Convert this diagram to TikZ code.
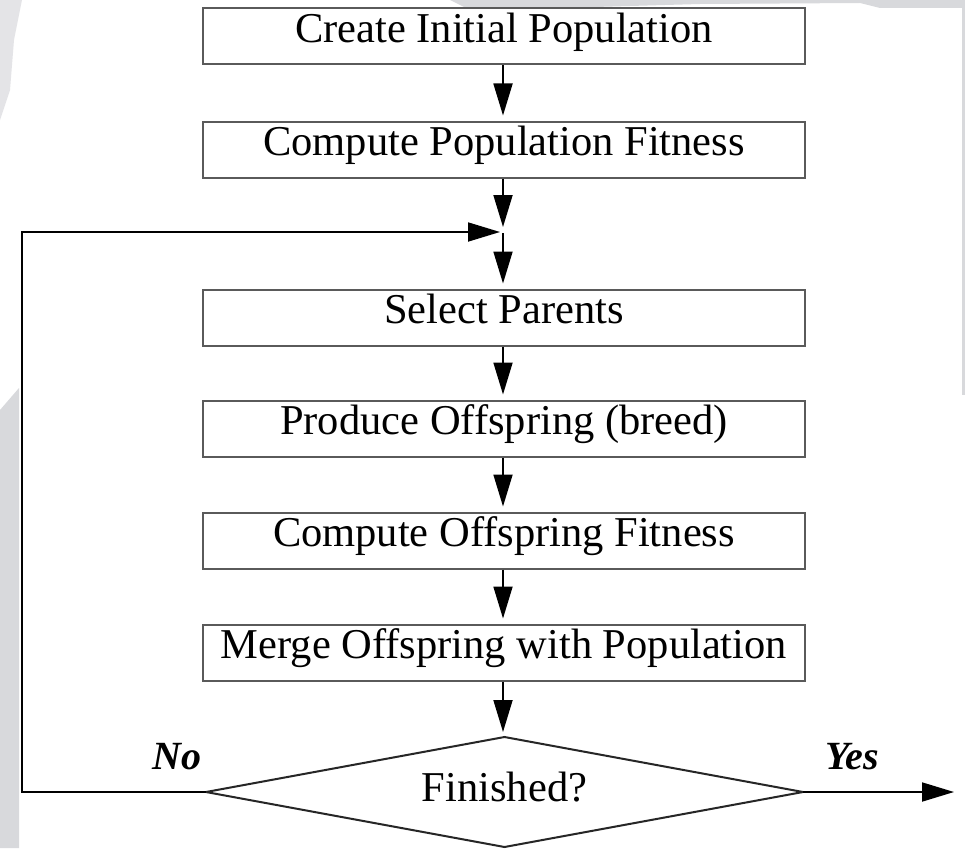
\documentclass[tikz,border=0pt]{standalone}
\usepackage{fontspec}
\setmainfont{Liberation Serif}
\usetikzlibrary{arrows.meta}
\definecolor{bggray}{HTML}{D8D9DC}
\definecolor{boxline}{HTML}{5A5A5A}
\tikzset{
  stepbox/.style={draw=boxline, line width=2pt, fill=white, minimum width=602pt, minimum height=56pt,
    inner sep=0pt, text height=29pt, text depth=17pt, font=\fontsize{42.5}{50}\selectfont},
  decisiontext/.style={inner sep=0pt, text height=29pt, text depth=10pt, font=\fontsize{42.5}{50}\selectfont},
  decisionline/.style={draw=black!85, line width=2pt, fill=white},
  arr/.style={line width=1.8pt, -{Triangle[length=32pt,width=19pt]}},
  lbl/.style={anchor=base, inner sep=0pt, font=\fontsize{40}{48}\selectfont\bfseries\itshape}
}
\begin{document}
\begin{tikzpicture}[x=1pt,y=-1pt]
\useasboundingbox (0,0) rectangle (965,848);
\fill[white] (0,0) rectangle (965,848);
% faint background artifacts
\fill[bggray] (0,848) -- (0,410) -- (19,388) -- (19,848) -- cycle;
\fill[bggray!70] (0,0) -- (22,0) -- (14,40) -- (10,90) -- (0,120) -- cycle;
\fill[bggray] (450,0) -- (965,0) -- (965,8) -- (880,8) -- (860,3) -- (700,4) -- (560,8) -- (470,10) -- cycle;
\fill[bggray] (962,0) rectangle (965,395);

\node[stepbox] (b1) at (504,36.5) {Create Initial Population};
\node[stepbox] (b2) at (504,149.5) {Compute Population Fitness};
\node[stepbox] (b3) at (504,317.5) {Select Parents};
\node[stepbox] (b4) at (504,428.5) {Produce Offspring (breed)};
\node[stepbox] (b5) at (504,540.5) {Compute Offspring Fitness};
\node[stepbox] (b6) at (504,652.5) {Merge Offspring with Population};

\coordinate (dN) at (504.5,737);
\coordinate (dE) at (803,792);
\coordinate (dS) at (504.5,847);
\coordinate (dW) at (206,792);
\path[decisionline] (dN) -- (dE) -- (dS) -- (dW) -- cycle;
\node[decisiontext] (d) at (504.5,792) {Finished?};

\coordinate (m) at (503,232);
\coordinate (loopbot) at (22,792);
\coordinate (yesend) at (954,792);

\node[lbl] (no) at (177,769) {No};
\node[lbl] (yes) at (852,769) {Yes};

\draw[arr, shorten >=5pt] (b1.south -| m) -- (b2.north -| m);
\draw[arr, shorten >=5pt] (b2.south -| m) -- (m);
\draw[arr, shorten >=5pt, shorten <=1pt] (m) -- (b3.north -| m);
\draw[arr, shorten >=5pt] (b3.south -| m) -- (b4.north -| m);
\draw[arr, shorten >=5pt] (b4.south -| m) -- (b5.north -| m);
\draw[arr, shorten >=5pt] (b5.south -| m) -- (b6.north -| m);
\draw[arr, shorten >=5pt] (b6.south -| m) -- (dN -| m);
\draw[arr, shorten >=3pt] (dW) -- (loopbot) |- (m);
\draw[arr] (dE) -- (yesend);
\end{tikzpicture}
\end{document}
